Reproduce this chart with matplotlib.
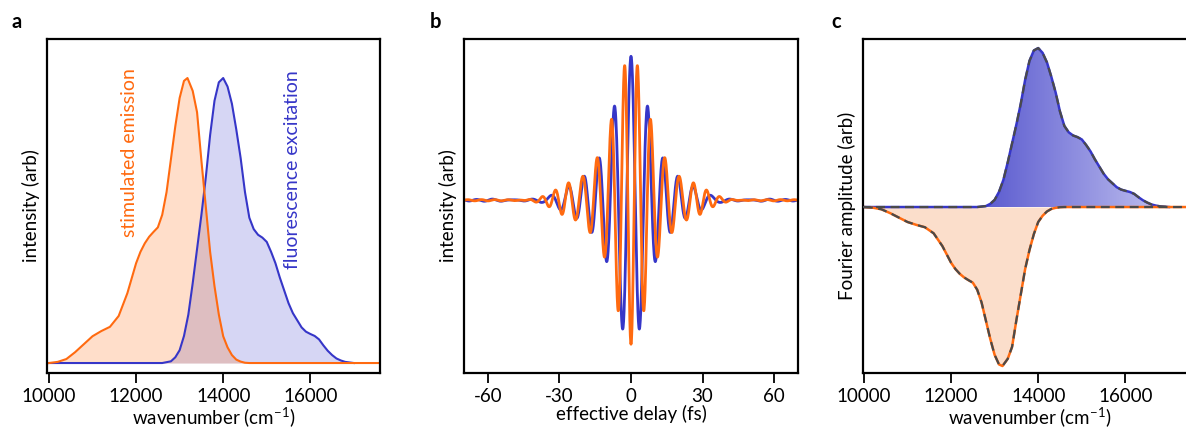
import numpy as np
import matplotlib
matplotlib.use('Agg')
import matplotlib.pyplot as plt
from matplotlib.colors import LinearSegmentedColormap

plt.rcParams['font.family'] = ['Lato', 'DejaVu Sans']
plt.rcParams['font.size'] = 13.5
plt.rcParams['mathtext.fontset'] = 'custom'
plt.rcParams['mathtext.rm'] = 'Lato'
plt.rcParams['axes.unicode_minus'] = False

# spectra (wavenumber in cm-1, normalised intensity)
nu_se = [10000, 10200, 10400, 10600, 10800, 11000, 11200, 11400, 11600, 11800,
         12000, 12100, 12200, 12300, 12400, 12500, 12600, 12700, 12800, 12900,
         13000, 13100, 13180, 13300, 13400, 13500, 13600, 13700, 13800, 13900,
         14000, 14100, 14200, 14300, 14400, 14500, 14600, 17600]
se = [0.0, 0.004, 0.014, 0.038, 0.066, 0.094, 0.112, 0.127, 0.165, 0.245,
      0.35, 0.39, 0.42, 0.443, 0.46, 0.476, 0.52, 0.60, 0.715, 0.83,
      0.93, 0.99, 1.0, 0.955, 0.88, 0.71, 0.55, 0.39, 0.27, 0.17,
      0.094, 0.055, 0.028, 0.012, 0.005, 0.001, 0.0, 0.0]

nu_fe = [9950, 12600, 12800, 12900, 13000, 13100, 13200, 13300, 13400, 13500,
         13600, 13700, 13800, 13900, 14000, 14100, 14200, 14300, 14400, 14500,
         14600, 14700, 14800, 14900, 15000, 15100, 15200, 15300, 15400, 15500,
         15600, 15700, 15800, 15900, 16000, 16100, 16200, 16300, 16400, 16500,
         16600, 16700, 16800, 17000]
fe = [0.0, 0.0, 0.006, 0.02, 0.045, 0.095, 0.17, 0.28, 0.40, 0.52,
      0.65, 0.80, 0.92, 0.985, 1.0, 0.97, 0.91, 0.82, 0.72, 0.60,
      0.51, 0.47, 0.45, 0.44, 0.425, 0.39, 0.35, 0.30, 0.255, 0.21,
      0.175, 0.15, 0.125, 0.11, 0.102, 0.095, 0.083, 0.062, 0.043, 0.028,
      0.016, 0.009, 0.004, 0.0]

# reference frequency of the rotating frame for the effective delay
nu_ref = 19000.0
delay = np.arange(-70, 70.05, 0.1)  # fs

orange = '#ff6a10'
blue = '#3636c8'


def interferogram(nu, spec):
    grid = np.arange(9950, 17600, 5.0)
    s = np.interp(grid, nu, spec)
    c = 2.998e-5  # cm / fs
    phase = 2 * np.pi * c * np.outer(delay, nu_ref - grid)
    sig = (np.cos(phase) * s).sum(axis=1)
    return sig / sig[np.argmin(np.abs(delay))]


sig_fe = interferogram(nu_fe, fe)
sig_se = -interferogram(nu_se, se)

fig = plt.figure(figsize=(11.86, 4.28), dpi=100)
W, H = 1186, 428
bot = 1 - 373 / H
hgt = (373 - 39) / H
ax1 = fig.add_axes([47 / W, bot, 333 / W, hgt])
ax2 = fig.add_axes([464 / W, bot, 334 / W, hgt])
ax3 = fig.add_axes([863 / W, bot, 333 / W, hgt])

for ax in (ax1, ax2, ax3):
    for sp in ax.spines.values():
        sp.set_linewidth(1.6)
    ax.set_yticks([])
    ax.tick_params(axis='x', direction='out', length=7, width=1.3, pad=4, labelsize=13.5)

# panel a
ax1.fill_between(nu_fe, 0, fe, color=blue, alpha=0.2, linewidth=0)
ax1.fill_between(nu_se, 0, se, color=orange, alpha=0.22, linewidth=0)
ax1.plot(nu_fe, fe, color=blue, lw=1.5)
ax1.plot(nu_se, se, color=orange, lw=1.5)
ax1.text(11860, 0.74, 'stimulated emission', color=orange, rotation=90,
         ha='center', va='center', fontsize=14)
ax1.text(15600, 0.68, 'fluorescence excitation', color=blue, rotation=90,
         ha='center', va='center', fontsize=14)
ax1.set_xlim(9955, 17600)
ax1.set_ylim(-0.035, 1.137)
ax1.set_xticks([10000, 12000, 14000, 16000])
ax1.set_xlabel(r'wavenumber (cm$^{-1}$)', labelpad=0)
ax1.set_ylabel('intensity (arb)', labelpad=5)

# panel b
ax2.plot(delay, sig_fe, color=blue, lw=2)
ax2.plot(delay, sig_se, color=orange, lw=2)
ax2.set_xlim(-70, 70)
ax2.set_ylim(-1.2, 1.12)
ax2.set_xticks([-60, -30, 0, 30, 60])
ax2.set_xlabel('effective delay (fs)', labelpad=0)
ax2.set_ylabel('intensity (arb)', labelpad=5)

# panel c
cmap = LinearSegmentedColormap.from_list('fe', ['#5a5acf', '#c2c2f0'])
poly = ax3.fill_between(nu_fe, 0, fe, color='none', linewidth=0)
im = ax3.imshow(np.linspace(0, 1, 256).reshape(1, -1), extent=[12700, 17000, 0, 1.05],
                aspect='auto', cmap=cmap, origin='lower', zorder=1)
im.set_clip_path(poly.get_paths()[0], transform=ax3.transData)
ax3.fill_between(nu_se, 0, [-v for v in se], color='#fbdecb', linewidth=0, zorder=1)
ax3.plot(nu_fe, fe, color=blue, lw=1.8, zorder=2)
ax3.plot(nu_se, [-v for v in se], color=orange, lw=1.8, zorder=2)
ax3.plot(nu_fe, fe, color='#4a4a4a', lw=1.6, ls=(0, (4, 2.5)), zorder=3)
ax3.plot(nu_se, [-v for v in se], color='#4a4a4a', lw=1.6, ls=(0, (4, 2.5)), zorder=3)
ax3.set_xlim(9980, 17620)
ax3.set_ylim(-1.044, 1.057)
ax3.set_xticks([10000, 12000, 14000, 16000])
ax3.set_xlabel(r'wavenumber (cm$^{-1}$)', labelpad=0)
ax3.set_ylabel('Fourier amplitude (arb)', labelpad=5)

for x, lab in [(12, 'a'), (430, 'b'), (831, 'c')]:
    fig.text(x / W, 1 - 28 / H, lab, fontsize=14.5, fontweight='bold',
             ha='left', va='baseline')

fig.savefig('out.png', dpi=100)
